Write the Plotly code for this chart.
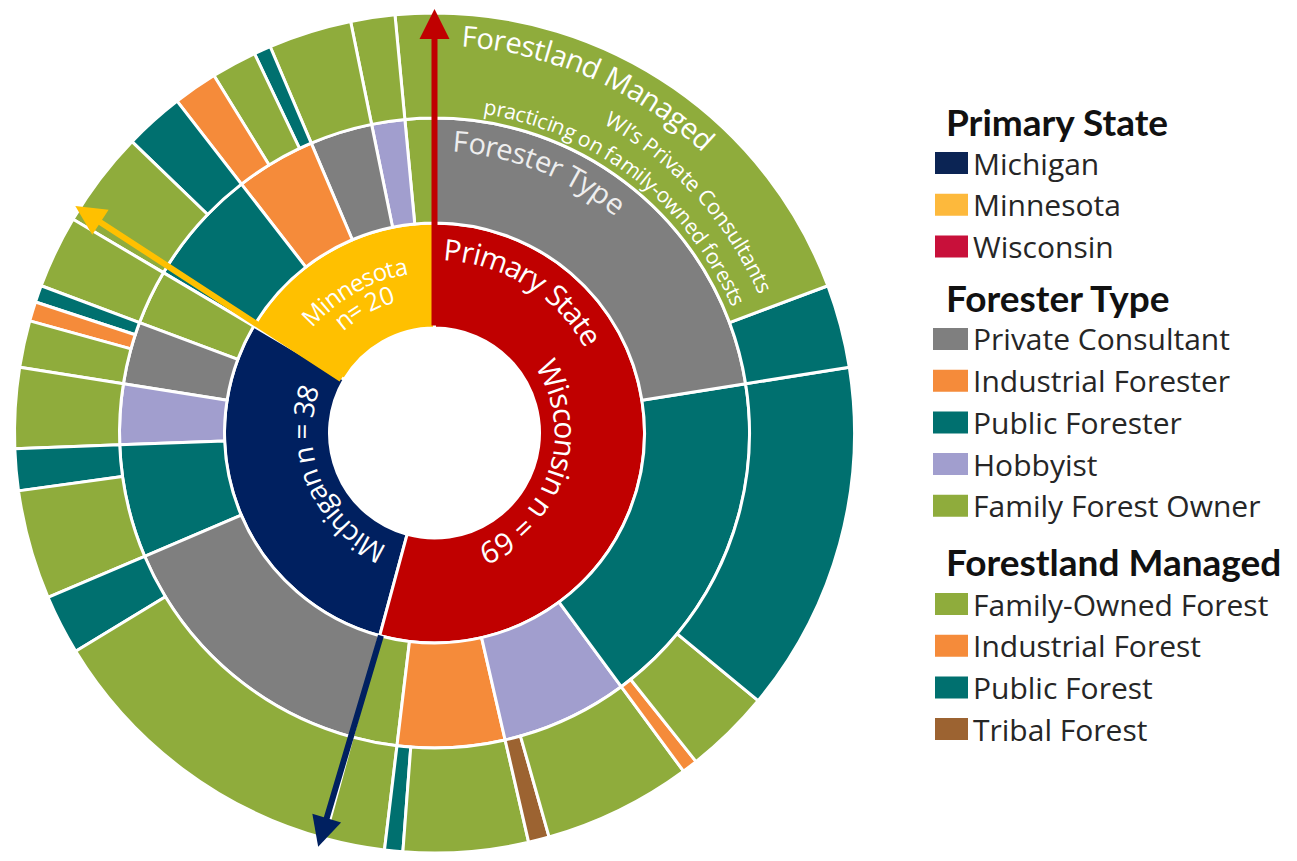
import math
import plotly.graph_objects as go

# ---- data, listed clockwise from 12 o'clock ----
states = ["Wisconsin", "Michigan", "Minnesota"]
state_n = [69, 38, 20]

leaf_state = ["Wisconsin"] * 10 + ["Michigan"] * 9 + ["Minnesota"] * 8
leaf_type = [
    "Private Consultant", "Private Consultant", "Public Forester", "Public Forester",
    "Public Forester", "Hobbyist", "Hobbyist", "Industrial Forester",
    "Industrial Forester", "Family Forest Owner",
    "Private Consultant", "Private Consultant", "Public Forester", "Public Forester",
    "Hobbyist", "Private Consultant", "Private Consultant", "Private Consultant",
    "Family Forest Owner",
    "Public Forester", "Public Forester", "Industrial Forester", "Industrial Forester",
    "Industrial Forester", "Private Consultant", "Hobbyist", "Family Forest Owner",
]
leaf_land = [
    "Family-Owned Forest", "Public Forest", "Public Forest", "Family-Owned Forest",
    "Industrial Forest", "Family-Owned Forest", "Tribal Forest", "Family-Owned Forest",
    "Public Forest", "Family-Owned Forest",
    "Family-Owned Forest", "Public Forest", "Family-Owned Forest", "Public Forest",
    "Family-Owned Forest", "Family-Owned Forest", "Industrial Forest", "Public Forest",
    "Family-Owned Forest",
    "Family-Owned Forest", "Public Forest", "Industrial Forest", "Family-Owned Forest",
    "Public Forest", "Family-Owned Forest", "Family-Owned Forest", "Family-Owned Forest",
]
leaf_value = [
    19.3, 3.2, 13.5, 3.3, 0.6, 5.7, 0.8, 4.8, 0.7, 2.3,
    12.1, 2.3, 4.2, 1.6, 3.1, 1.8, 0.75, 0.65, 2.8,
    3.7, 2.3, 1.7, 1.75, 0.65, 3.2, 1.7, 1.5,
]

state_colors = {"Wisconsin": "#C00000", "Michigan": "#002060", "Minnesota": "#FFC000"}
type_colors = {
    "Private Consultant": "#7F7F7F", "Industrial Forester": "#F58B3A",
    "Public Forester": "#00706F", "Hobbyist": "#A19ECE", "Family Forest Owner": "#8FAC3C",
}
land_colors = {
    "Family-Owned Forest": "#8FAC3C", "Industrial Forest": "#F58B3A",
    "Public Forest": "#00706F", "Tribal Forest": "#9C6331",
}

legend_titles = ["Primary State", "Forester Type", "Forestland Managed"]
legend_state = ["Michigan", "Minnesota", "Wisconsin"]
legend_state_colors = ["#0B2454", "#FDB93C", "#C8103A"]
legend_type = ["Private Consultant", "Industrial Forester", "Public Forester",
               "Hobbyist", "Family Forest Owner"]
legend_land = ["Family-Owned Forest", "Industrial Forest", "Public Forest", "Tribal Forest"]

# ---- page geometry (reference pixels) ----
OFF = 8
W, H = 1297 - 2 * OFF, 861 - 2 * OFF
CX, CY, R = 434.5, 433, 420
K = R / 424.0
CCW = True  # plotly lays out sunburst sectors counterclockwise


def fx(px):
    return (px - OFF) / W


def fy(py):
    return 1 - (py - OFF) / H


def polar(r, deg):
    t = math.radians(deg)
    return CX + r * K * math.sin(t), CY - r * K * math.cos(t)


# ---- build the hierarchy ----
order = list(range(len(leaf_value)))
if CCW:
    order = order[::-1]

ids, labels, parents, values, colors = ["root"], [""], [""], [0], ["white"]
seen_states = set()
prev_key, run = None, 0
for i in order:
    st, ty, la = leaf_state[i], leaf_type[i], leaf_land[i]
    if st not in seen_states:
        seen_states.add(st)
        ids.append(st)
        labels.append(f"{st} n = {state_n[states.index(st)]}")
        parents.append("root")
        values.append(0)
        colors.append(state_colors[st])
    if (st, ty) != prev_key:
        run += 1
        tid = f"{st}/{run}/{ty}"
        ids.append(tid)
        labels.append(ty)
        parents.append(st)
        values.append(0)
        colors.append(type_colors[ty])
        prev_key = (st, ty)
    ids.append(f"{tid}/{la}")
    labels.append(la)
    parents.append(tid)
    values.append(leaf_value[i])
    colors.append(land_colors[la])

fig = go.Figure(go.Sunburst(
    ids=ids, labels=labels, parents=parents, values=values,
    branchvalues="remainder", sort=False, rotation=90,
    marker=dict(colors=colors, line=dict(color="white", width=3)),
    leaf=dict(opacity=1), textinfo="none", hoverinfo="none",
    domain=dict(x=[max(0, fx(CX - R)), min(1, fx(CX + R))],
                y=[max(0, fy(CY + R)), min(1, fy(CY - R))]),
))

# ---- curved labels ----
EM = {" ": .26, "a": .556, "b": .613, "c": .476, "d": .613, "e": .561, "f": .339,
      "g": .548, "h": .614, "i": .253, "l": .253, "m": .930, "n": .614, "o": .604,
      "p": .613, "r": .408, "s": .477, "t": .353, "u": .614, "v": .501, "w": .778,
      "y": .502, "F": .548, "M": .903, "P": .618, "T": .541, "W": .948, "I": .279,
      "C": .631, "S": .536, "'": .177, "’": .177, "-": .322, "=": .572}
FONT = "Open Sans"


def arc_text(text, r, mid, size, color="white"):
    ws = [EM.get(ch, .572) * size for ch in text]
    rr = r * K
    a = math.radians(mid) - sum(ws) / rr / 2
    out = []
    for ch, w in zip(text, ws):
        th = a + w / 2 / rr
        a += w / rr
        if ch == " ":
            continue
        x, y = CX + rr * math.sin(th), CY - rr * math.cos(th)
        ang = math.degrees(th) % 360
        if ang > 180:
            ang -= 360
        out.append(dict(x=fx(x), y=fy(y), xref="paper", yref="paper", text=ch,
                        showarrow=False, textangle=ang, xanchor="center", yanchor="middle",
                        font=dict(family=FONT, size=size, color=color)))
    return out


ann = []
ann += arc_text("Forestland Managed", 403, 23.8, 29)
ann += arc_text("WI’s Private Consultants", 364, 47.8, 21.5)
ann += arc_text("practicing on family-owned forests", 334, 37.9, 21)
ann += arc_text("Forester Type", 296, 21.7, 29, "#EEEEEE")
ann += arc_text("Primary State", 186.5, 31.8, 29.5)
ann += arc_text(f"Wisconsin n = {state_n[0]}", 133, 107.9, 30)
ann += arc_text(f"Michigan n = {state_n[1]}", 135, 246.8, 28)
ann += arc_text("Minnesota", 172, 330.8, 24)
ann += arc_text(f"n= {state_n[2]}", 148, 330.7, 25)


# ---- arrows ----
def arrow(r0, a0, r1, a1, color):
    x0, y0 = polar(r0, a0)
    x1, y1 = polar(r1, a1)
    return dict(x=fx(x1), y=fy(y1), xref="paper", yref="paper", ax=x0 - x1, ay=y0 - y1,
                axref="pixel", ayref="pixel", text="", showarrow=True, arrowhead=2,
                arrowsize=1, arrowwidth=6, arrowcolor=color, standoff=0, startstandoff=0)


ann.append(arrow(107, 0, 433, 0, "#C00000"))
ann.append(arrow(107, 300, 429, 302.3, "#FFC000"))
ann.append(arrow(210, 194.8, 434, 195.7, "#002060"))

# ---- legend ----
shapes = []


def legend_block(title, ty, items, cols, y0, sx):
    ann.append(dict(x=fx(944), y=fy(ty), xref="paper", yref="paper", text=f"<b>{title}</b>",
                    showarrow=False, xanchor="left", yanchor="middle",
                    font=dict(family="Lato", size=37, color="#111111")))
    for k, (name, c) in enumerate(zip(items, cols)):
        yc = y0 + k * 41.7
        shapes.append(dict(type="rect", xref="paper", yref="paper", x0=fx(sx), x1=fx(968),
                           y0=fy(yc + 11), y1=fy(yc - 11), fillcolor=c, line=dict(width=0)))
        ann.append(dict(x=fx(971), y=fy(yc), xref="paper", yref="paper", text=name,
                        showarrow=False, xanchor="left", yanchor="middle",
                        font=dict(family=FONT, size=30, color="#262626")))


legend_block(legend_titles[0], 121, legend_state, legend_state_colors, 163, 935)
legend_block(legend_titles[1], 297, legend_type, [type_colors[t] for t in legend_type], 339, 933)
legend_block(legend_titles[2], 561, legend_land, [land_colors[t] for t in legend_land], 604, 935)

fig.update_layout(
    width=W, height=H, margin=dict(l=0, r=0, t=0, b=0),
    paper_bgcolor="white", showlegend=False,
    annotations=ann, shapes=shapes,
)

fig.write_html("out.html")
